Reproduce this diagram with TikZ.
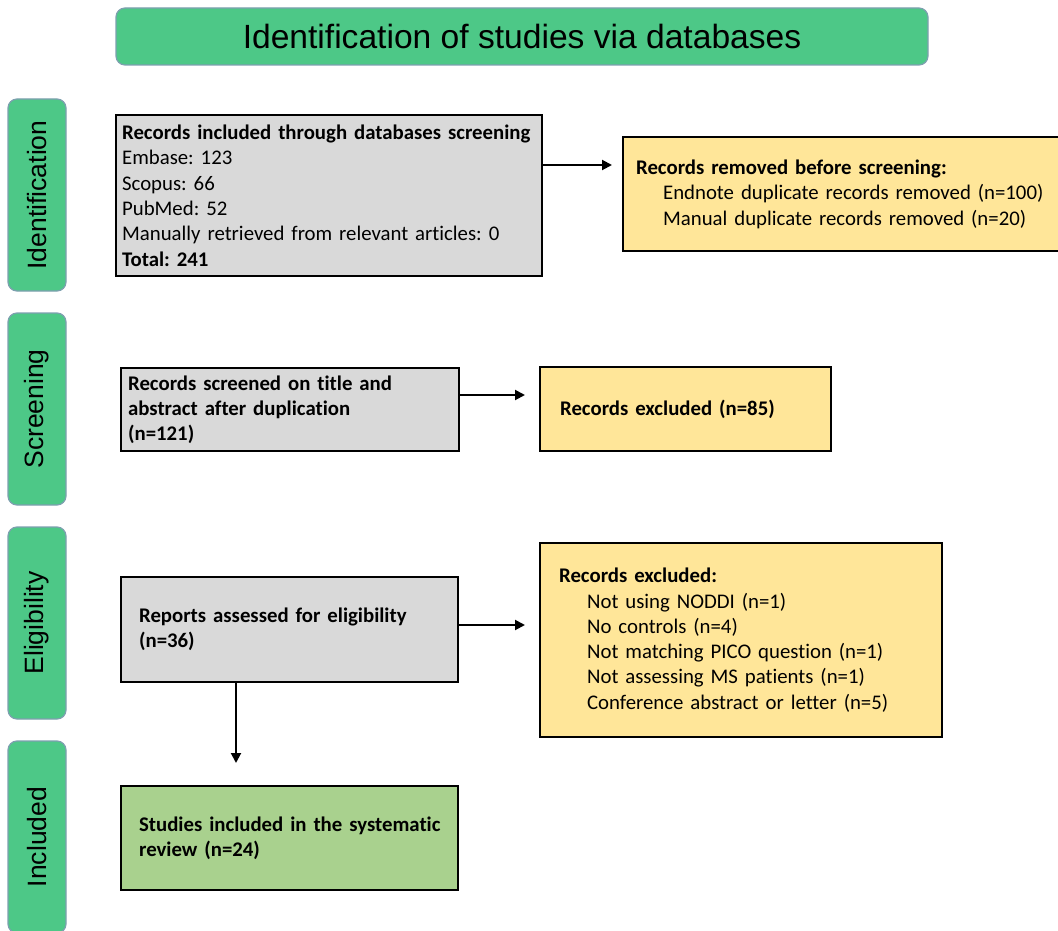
\documentclass[tikz,border=0pt]{standalone}
\usepackage{fontspec}
\setmainfont[Ligatures=NoCommon]{Carlito}
\newfontfamily\arialfont{Liberation Sans}
\usetikzlibrary{arrows.meta}
\frenchspacing
\definecolor{hdrgreen}{RGB}{77,200,135}
\definecolor{hdrborder}{RGB}{125,160,175}
\definecolor{boxgray}{RGB}{217,217,217}
\definecolor{boxyellow}{RGB}{255,230,153}
\definecolor{boxgreen}{RGB}{169,209,142}
\tikzset{
  hdr/.style={draw=hdrborder, line width=1.2pt, fill=hdrgreen, rounded corners=9pt, font=\arialfont\fontsize{33.6}{40}\selectfont, inner sep=0pt},
  side/.style={draw=hdrborder, line width=1.2pt, fill=hdrgreen, rounded corners=9pt, minimum width=58pt, minimum height=192pt, inner sep=0pt},
  sidetext/.style={font=\arialfont\fontsize{26.5}{30}\selectfont, rotate=90},
  flowbox/.style={draw=black, line width=2.2pt, align=left, inner ysep=0pt, font=\fontsize{20.8}{25.3}\selectfont},
  graybox/.style={flowbox, fill=boxgray},
  yellowbox/.style={flowbox, fill=boxyellow},
  greenbox/.style={flowbox, fill=boxgreen},
  arr/.style={line width=2pt, -{Triangle[length=10pt,width=10pt]}},
}
\begin{document}
\begin{tikzpicture}[x=1pt, y=-1pt]
\useasboundingbox (0,0) rectangle (1058,931);
% title
\node[hdr, minimum width=812pt, minimum height=57pt] (title) at (522,36.5) {Identification of studies via databases};
% side labels
\node[side] (s1) at (37,195) {};
\node[sidetext] at (s1) {Identification};
\node[side] (s2) at (37,409) {};
\node[sidetext] at (s2) {Screening};
\node[side] (s3) at (37,623) {};
\node[sidetext] at (s3) {Eligibility};
\node[side] (s4) at (37,837) {};
\node[sidetext] at (s4) {Included};
% boxes
\node[graybox, anchor=north west, inner xsep=6pt, text width=414pt, minimum height=161pt] (b1) at (115,114)
 {\textbf{Records included through databases screening}\\
  Embase: 123\\
  Scopus: 66\\
  PubMed: 52\\
  Manually retrieved from relevant articles: 0\\
  \textbf{Total: 241}};
\node[yellowbox, anchor=north west, inner xsep=13pt, text width=436pt, minimum height=114pt] (rem) at (622,136)
 {\textbf{Records removed before screening:}\\
  \hspace*{27pt}Endnote duplicate records removed (n=100)\\
  \hspace*{27pt}Manual duplicate records removed (n=20)};
\node[graybox, anchor=north west, inner xsep=7pt, text width=324pt, minimum height=83pt] (b2) at (120,367)
 {\textbf{Records screened on title and}\\
  \textbf{abstract after duplication}\\
  \textbf{(n=121)}};
\node[yellowbox, anchor=north west, inner xsep=20pt, text width=251pt, minimum height=84pt] (ex1) at (539,366)
 {\textbf{Records excluded (n=85)}};
\node[graybox, anchor=north west, inner xsep=18pt, text width=301pt, minimum height=105pt] (b3) at (120,576)
 {\textbf{Reports assessed for eligibility}\\
  \textbf{(n=36)}};
\node[yellowbox, anchor=north west, inner xsep=19pt, text width=364pt, minimum height=194pt] (ex2) at (539,542)
 {\textbf{Records excluded:}\\
  \hspace*{28pt}Not using NODDI (n=1)\\
  \hspace*{28pt}No controls (n=4)\\
  \hspace*{28pt}Not matching PICO question (n=1)\\
  \hspace*{28pt}Not assessing MS patients (n=1)\\
  \hspace*{28pt}Conference abstract or letter (n=5)};
\node[greenbox, anchor=north west, inner xsep=18pt, text width=301pt, minimum height=104pt] (b4) at (120,785)
 {\mbox{\textbf{Studies included in the systematic}}\\
  \textbf{review (n=24)}};
% arrows
\coordinate (y1) at (0,165);
\coordinate (y2) at (0,395);
\coordinate (y3) at (0,625);
\coordinate (x4) at (236,0);
\draw[arr, shorten >=10pt] (b1.east |- y1) -- (rem.west |- y1);
\draw[arr, shorten >=14pt] (b2.east |- y2) -- (ex1.west |- y2);
\draw[arr, shorten >=14pt] (b3.east |- y3) -- (ex2.west |- y3);
\draw[arr, shorten >=22pt] (b3.south -| x4) -- (b4.north -| x4);
\end{tikzpicture}
\end{document}
